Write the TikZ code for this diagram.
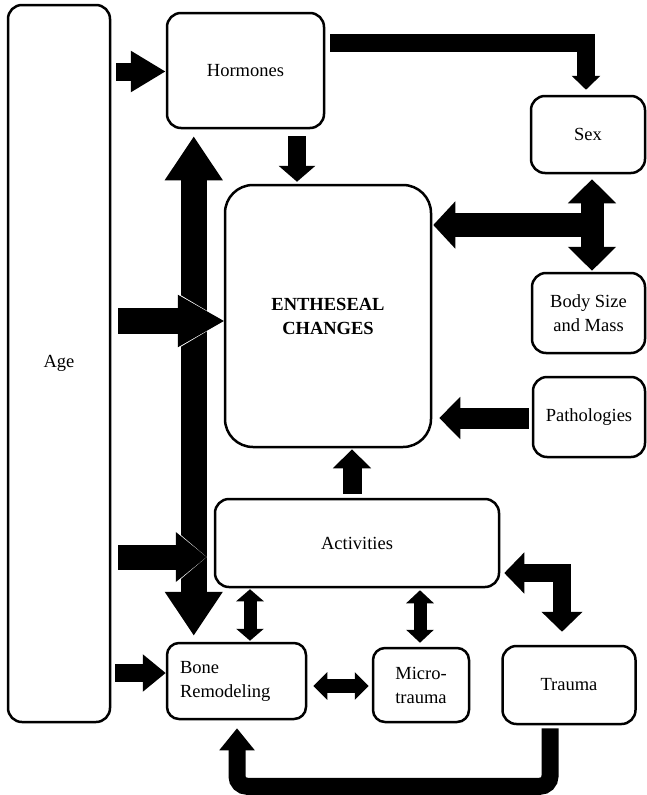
\documentclass[tikz,border=0pt]{standalone}
\usepackage{fontspec}
\setmainfont{Liberation Serif}
\usetikzlibrary{arrows.meta,calc}

\begin{document}
\begin{tikzpicture}
    [x=1pt,y=-1pt,
      font=\fontsize{18.5}{24}\selectfont,
      box/.style={rectangle,draw,line width=2.5pt,rounded corners=14pt,
        align=center,inner sep=0pt},
      fat/.style args={#1/#2/#3}{line width=#1,-{Triangle[width=#2,length=#3]}},
      fatboth/.style args={#1/#2/#3}{line width=#1,
        {Triangle[width=#2,length=#3]}-{Triangle[width=#2,length=#3]}},
      halo/.style args={#1/#2/#3}{preaction={draw=white,line width=#1,
          -{Triangle[width=#2,length=#3]}}}
    ]
    \useasboundingbox (0,0) rectangle (647,795);

    \node [box,minimum width=102pt,minimum height=717pt] (age) at (59,363.5) {Age};
    \node [box,minimum width=157pt,minimum height=115pt] (horm) at (245.5,70.5) {Hormones};
    \node [box,minimum width=114pt,minimum height=77pt] (sex) at (588,134.5) {Sex};
    \node [box,rounded corners=28pt,minimum width=206pt,minimum height=262pt,
      font=\fontsize{18.5}{24}\selectfont\bfseries] (enth) at (328,316) {ENTHESEAL\\CHANGES};
    \node [box,minimum width=113pt,minimum height=80pt] (body) at (588.5,313) {Body Size\\and Mass};
    \node [box,minimum width=112pt,minimum height=80pt] (path) at (589,417) {Pathologies};
    \node [box,minimum width=284pt,minimum height=88pt] (act) at (357,543) {Activities};
    \node [box,rounded corners=12pt,minimum width=139pt,minimum height=76pt,
      align=left,text width=113pt] (bone) at (236.5,681) {Bone\\Remodeling};
    \node [box,rounded corners=12pt,minimum width=96pt,minimum height=74pt] (micro) at (421,685) {Micro-\\trauma};
    \node [box,minimum width=133pt,minimum height=78pt] (trauma) at (569,685) {Trauma};

    % age
    \draw [fat=18pt/39pt/35pt] ($(age.east |- horm.west)+(5,1)$) -- ($(horm.west)+(0,1)$);
    \draw [fatboth=26pt/55pt/44pt] ($(horm.south west)+(28,7)$) -- ($(bone.north west)+(28,-6)$);
    \draw [halo=26pt/51.5pt/47pt,fat=26pt/49pt/47pt] ($(age.east |- enth.west)+(7,5)$) -- ($(enth.west)+(1,5)$);
    \draw [halo=25pt/50.5pt/31pt,fat=25pt/48pt/31pt] ($(age.east |- act.west)+(7,14)$) -- ($(act.west)+(-7,14)$);
    \draw [fat=18pt/36pt/23pt] ($(age.east |- bone.west)+(4,-8)$) -- ($(bone.west)+(0,-8)$);

    % hormones
    \draw [fat=18pt/28pt/14pt] ($(horm.north east)+(5,31)$) -| ($(sex.north)+(-2,-5)$);
    \draw [fat=18pt/36pt/16pt] ($(horm.south)+(51.5,7)$) -- ($(enth.north)+(-31,-2)$);

    % sex, body size
    \draw [fatboth=23pt/47pt/24pt] ($(sex.south)+(4,5)$) -- ($(body.north)+(3.5,-1)$);
    \coordinate (sb) at ($(sex.south)!.5!(body.north)+(4,2)$);
    \draw [fat=24pt/46pt/22pt] (sb) -- ($(sb -| enth.east)+(1,0)$);
    \draw [fat=21pt/41pt/21pt] ($(path.west)+(-3,1)$) -- ($(enth.east |- path.west)+(7,1)$);

    % activities
    \draw [fat=19pt/37pt/19pt] ($(act.north)+(-5,-4)$) -- ($(enth.south)+(24,1)$);
    \draw [fatboth=13pt/27pt/12pt] ($(bone.north)+(13.5,-1)$) -- ($(bone.north |- act.south)+(13.5,1)$);
    \draw [fatboth=13pt/27pt/13pt] ($(micro.north)+(-1,-4)$) -- ($(micro.north |- act.south)+(-1,2)$);
    \draw [fatboth=14pt/27pt/14pt] ($(bone.east)+(6,5)$) -- ($(micro.west)+(-3,1)$);
    \draw [fatboth=18pt/40pt/20pt] ($(act.east)+(4,30)$) -| ($(trauma.north)+(-7,-13)$);

    % trauma
    \draw [fat=17pt/34pt/22pt,rounded corners=10pt] ($(trauma.south)+(-19,3)$) -- ++(0,58)
      -| ($(bone.south)+(0.5,8)$);
  \end{tikzpicture}
\end{document}
